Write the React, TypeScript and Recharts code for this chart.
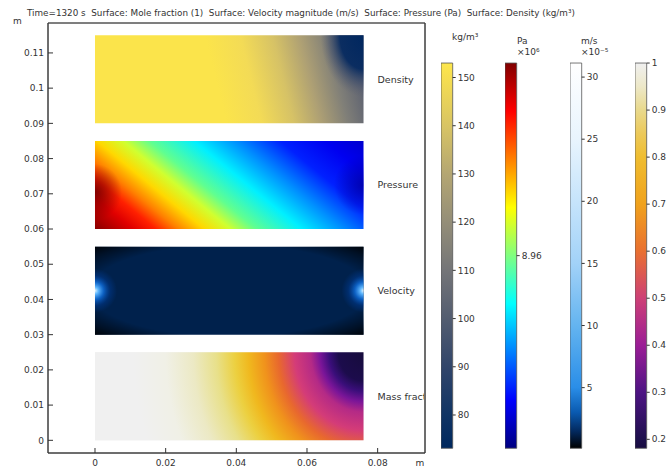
import React from "react";
import { ComposedChart, XAxis, YAxis, ReferenceArea } from "recharts";

// axes of the geometry plot (m)
const X_DOMAIN: [number, number] = [-0.0133, 0.0934];
const Y_DOMAIN: [number, number] = [-0.0036, 0.1185];
const X_TICKS = [0, 0.02, 0.04, 0.06, 0.08];
const Y_TICKS = [0, 0.01, 0.02, 0.03, 0.04, 0.05, 0.06, 0.07, 0.08, 0.09, 0.1, 0.11];

// the four copies of the domain, each showing one field
const BLOCK_NAMES = ["Density", "Pressure", "Velocity", "Mass fraction"];
const BLOCK_X: [number, number] = [0, 0.076];
const BLOCK_BOTTOM = [0.09, 0.06, 0.03, 0];
const BLOCK_TOP = [0.115, 0.085, 0.055, 0.025];
const BLOCK_FILLS = [
  ["url(#densBase)", "url(#densCorner)"],
  ["url(#presBase)", "url(#presLeft)", "url(#presRight)"],
  ["#00214c", "url(#velVignette)", "url(#velLeft)", "url(#velRight)"],
  ["#f0f0f0", "url(#massRadial)"],
];

// colour legends
const DENSITY_RANGE: [number, number] = [73.1, 153];
const DENSITY_TICKS = [80, 90, 100, 110, 120, 130, 140, 150];
const PRESSURE_RANGE: [number, number] = [8.93, 8.99];
const PRESSURE_TICKS = [8.96];
const VELOCITY_RANGE: [number, number] = [0.12, 31.13];
const VELOCITY_TICKS = [5, 10, 15, 20, 25, 30];
const MOLE_RANGE: [number, number] = [0.181, 1];
const MOLE_TICKS = [0.2, 0.3, 0.4, 0.5, 0.6, 0.7, 0.8, 0.9, 1];

const TEXT = "#333";
const FONT = "'DejaVu Sans', sans-serif";

type Stop = [number, string, number?];

function Linear({ id, stops, x1 = 0, y1 = 0, x2 = 0, y2 = 1 }: { id: string; stops: Stop[]; x1?: number; y1?: number; x2?: number; y2?: number }) {
  return (
    <linearGradient id={id} x1={x1} y1={y1} x2={x2} y2={y2}>
      {stops.map(([o, c, a], i) => (
        <stop key={i} offset={o} stopColor={c} stopOpacity={a ?? 1} />
      ))}
    </linearGradient>
  );
}

function Radial({ id, stops, transform }: { id: string; stops: Stop[]; transform?: string }) {
  return (
    <radialGradient id={id} cx={0} cy={0} r={1} fx={0} fy={0} gradientTransform={transform}>
      {stops.map(([o, c, a], i) => (
        <stop key={i} offset={o} stopColor={c} stopOpacity={a ?? 1} />
      ))}
    </radialGradient>
  );
}

function Defs() {
  return (
    <svg width={0} height={0} style={{ position: "absolute" }}>
      <defs>
        <clipPath id="frameClip" clipPathUnits="userSpaceOnUse">
          <rect x={0} y={0} width={424} height={471} />
        </clipPath>
        {/* density field */}
        <Linear id="densBase" x1={0} y1={0.54} x2={1} y2={0.46} stops={[
          [0, "#fbe44b"], [0.45, "#fbe44b"], [0.58, "#f3db56"], [0.7, "#d6c266"],
          [0.8, "#aea074"], [0.9, "#807f78"], [1, "#5a5f70"],
        ]} />
        <Radial id="densCorner" transform="translate(1 0) scale(0.16 0.7)" stops={[
          [0, "#00275f"], [0.55, "#062a60", 0.95], [0.8, "#3a4a6a", 0.5], [1, "#5a5f70", 0],
        ]} />
        {/* pressure field */}
        <Linear id="presBase" x1={-0.1} y1={0.74} x2={1.1} y2={0.26} stops={[
          [0, "#8b0000"], [0.1, "#e00000"], [0.16, "#ff2000"], [0.22, "#ff8000"],
          [0.29, "#ffd800"], [0.36, "#d0ff30"], [0.43, "#60ff90"], [0.55, "#00f0ff"],
          [0.66, "#0090ff"], [0.78, "#0020ff"], [0.9, "#0000f0"], [1, "#0000d0"],
        ]} />
        <Radial id="presLeft" transform="translate(0 0.58) scale(0.1 0.32)" stops={[
          [0, "#700000", 0.85], [1, "#700000", 0],
        ]} />
        <Radial id="presRight" transform="translate(1 0.5) scale(0.11 0.34)" stops={[
          [0, "#0000a0", 0.8], [1, "#0000a0", 0],
        ]} />
        {/* velocity field */}
        <radialGradient id="velVignette" cx={0.5} cy={0.5} r={0.72}>
          <stop offset={0} stopColor="#000" stopOpacity={0} />
          <stop offset={0.72} stopColor="#000" stopOpacity={0} />
          <stop offset={0.88} stopColor="#000" stopOpacity={0.5} />
          <stop offset={1} stopColor="#000" stopOpacity={0.95} />
        </radialGradient>
        <Radial id="velLeft" transform="translate(0 0.5) scale(0.082 0.25)" stops={[
          [0, "#e0f4ff"], [0.15, "#60b8ff"], [0.4, "#1070e0", 0.8], [0.7, "#0040a0", 0.4], [1, "#0040a0", 0],
        ]} />
        <Radial id="velRight" transform="translate(1 0.5) scale(0.082 0.25)" stops={[
          [0, "#e0f4ff"], [0.15, "#60b8ff"], [0.4, "#1070e0", 0.8], [0.7, "#0040a0", 0.4], [1, "#0040a0", 0],
        ]} />
        {/* mass fraction field */}
        <Radial id="massRadial" transform="translate(1 0) scale(0.857 2.95)" stops={[
          [0, "#160c3c"], [0.11, "#1c0c4c"], [0.15, "#3a0e7a"], [0.19, "#7a1598"],
          [0.23, "#b42a86"], [0.3, "#d43c78"], [0.37, "#e8682e"], [0.43, "#f0921c"],
          [0.5, "#f0b81e"], [0.56, "#ecd040"], [0.64, "#e8e08a"], [0.74, "#ece9c4"],
          [0.86, "#f0f0e6"], [1, "#f0f0f0"],
        ]} />
        {/* legends */}
        <Linear id="cbDensity" stops={[
          [0, "#fde74c"], [0.0375, "#f6de50"], [0.163, "#d8c464"], [0.288, "#b4a672"],
          [0.413, "#948e78"], [0.538, "#747578"], [0.663, "#535d70"], [0.789, "#31456a"],
          [0.914, "#103464"], [1, "#00285e"],
        ]} />
        <Linear id="cbPressure" stops={[
          [0, "#800000"], [0.125, "#ff0000"], [0.25, "#ff8000"], [0.375, "#ffff00"],
          [0.5, "#80ff80"], [0.625, "#00ffff"], [0.75, "#0080ff"], [0.875, "#0000ff"], [1, "#000080"],
        ]} />
        <Linear id="cbVelocity" stops={[
          [0, "#ffffff"], [0.198, "#e8f4fd"], [0.359, "#c6e4fb"], [0.52, "#a2d2f8"],
          [0.681, "#64b4f0"], [0.842, "#2a8ee8"], [0.907, "#0a5ab0"], [0.955, "#032a60"], [1, "#000000"],
        ]} />
        <Linear id="cbMole" stops={[
          [0, "#f0f0f0"], [0.061, "#ede8c8"], [0.122, "#e9d98c"], [0.183, "#ecc95a"],
          [0.244, "#efbd30"], [0.366, "#f0a21c"], [0.488, "#e97030"], [0.611, "#cd4076"],
          [0.733, "#9b1d96"], [0.855, "#4d1383"], [0.977, "#1d0f4c"], [1, "#180c40"],
        ]} />
      </defs>
    </svg>
  );
}

function BlockLabel({ viewBox, text }: { viewBox?: any; text: string }) {
  if (!viewBox) return null;
  return (
    <text
      x={viewBox.x + viewBox.width + 14}
      y={viewBox.y + viewBox.height / 2}
      dominantBaseline="central"
      fontSize={9.5}
      fill={TEXT}
      clipPath="url(#frameClip)"
    >
      {text}
    </text>
  );
}

const fmt = (v: number) => String(v);

function ColorBar({ left, range, ticks, gradient }: { left: number; range: [number, number]; ticks: number[]; gradient: string }) {
  return (
    <div style={{ position: "absolute", left, top: 56.7 }}>
      <ComposedChart width={51.7} height={397.3} margin={{ top: 6, right: 0, bottom: 6, left: 0 }}>
        <XAxis
          type="number"
          dataKey="x"
          domain={[0, 1]}
          allowDataOverflow
          height={0}
          axisLine={false}
          tickLine={false}
          tick={false}
        />
        <YAxis
          orientation="right"
          type="number"
          dataKey="v"
          domain={range}
          ticks={ticks}
          interval={0}
          allowDataOverflow
          width={40}
          axisLine={false}
          tickSize={3}
          tickMargin={2}
          tickLine={{ stroke: "#333" }}
          tick={{ fontSize: 9, fill: TEXT }}
          tickFormatter={fmt}
        />
        <ReferenceArea
          y1={range[0]}
          y2={range[1]}
          fill={`url(#${gradient})`}
          fillOpacity={1}
          stroke="#555"
          strokeWidth={0.8}
          ifOverflow="visible"
        />
      </ComposedChart>
    </div>
  );
}

export default function App() {
  return (
    <div
      style={{
        position: "absolute",
        left: 0,
        top: 0,
        width: 669,
        height: 471,
        background: "#fff",
        fontFamily: FONT,
        overflow: "hidden",
      }}
    >
      <Defs />
      <div style={{ position: "absolute", left: 0, top: 0 }}>
        <ComposedChart width={669} height={471} margin={{ top: 18, right: 243, bottom: 0, left: 0 }}>
          <XAxis
            type="number"
            dataKey="x"
            domain={X_DOMAIN}
            ticks={X_TICKS}
            interval={0}
            allowDataOverflow
            height={18}
            tickSize={-5}
            tickMargin={12}
            stroke="#333"
            tick={{ fontSize: 9, fill: TEXT }}
            tickFormatter={fmt}
          />
          <XAxis
            xAxisId="top"
            orientation="top"
            type="number"
            dataKey="x"
            domain={X_DOMAIN}
            ticks={X_TICKS}
            interval={0}
            allowDataOverflow
            height={5}
            tickSize={-5}
            tickMargin={0}
            tick={false}
            stroke="#555"
          />
          <YAxis
            type="number"
            dataKey="y"
            domain={Y_DOMAIN}
            ticks={Y_TICKS}
            interval={0}
            allowDataOverflow
            width={48}
            tickSize={-5}
            tickMargin={9}
            stroke="#333"
            tick={{ fontSize: 9, fill: TEXT }}
            tickFormatter={fmt}
          />
          <YAxis
            yAxisId="right"
            orientation="right"
            type="number"
            dataKey="y"
            domain={Y_DOMAIN}
            ticks={Y_TICKS}
            interval={0}
            allowDataOverflow
            width={1}
            tickSize={-5}
            tick={false}
            stroke="#333"
          />
          {/* plot frame */}
          <ReferenceArea
            x1={X_DOMAIN[0]}
            x2={X_DOMAIN[1]}
            y1={Y_DOMAIN[0]}
            y2={Y_DOMAIN[1]}
            fill="none"
            stroke="#555"
            strokeWidth={1}
            ifOverflow="visible"
          />
          {BLOCK_NAMES.map((name, b) =>
            BLOCK_FILLS[b].map((fill, k) => (
              <ReferenceArea
                key={`${name}-${k}`}
                x1={BLOCK_X[0]}
                x2={BLOCK_X[1]}
                y1={BLOCK_BOTTOM[b]}
                y2={BLOCK_TOP[b]}
                fill={fill}
                fillOpacity={1}
                stroke="none"
                label={k === 0 ? (p: any) => <BlockLabel viewBox={p.viewBox} text={name} /> : undefined}
              />
            ))
          )}
        </ComposedChart>
      </div>

      <ColorBar left={440.7} range={DENSITY_RANGE} ticks={DENSITY_TICKS} gradient="cbDensity" />
      <ColorBar left={505.3} range={PRESSURE_RANGE} ticks={PRESSURE_TICKS} gradient="cbPressure" />
      <ColorBar left={570} range={VELOCITY_RANGE} ticks={VELOCITY_TICKS} gradient="cbVelocity" />
      <ColorBar left={635} range={MOLE_RANGE} ticks={MOLE_TICKS} gradient="cbMole" />

      <svg width={669} height={471} style={{ position: "absolute", left: 0, top: 0, pointerEvents: "none" }}>
        <g fill={TEXT} fontSize={9}>
          <text x={27} y={13} dominantBaseline="central" fontSize={8.8}>
            Time=1320 s{"\u00a0\u00a0"}Surface: Mole fraction (1){"\u00a0\u00a0"}Surface: Velocity magnitude (m/s){"\u00a0\u00a0"}Surface: Pressure (Pa){"\u00a0\u00a0"}Surface: Density (kg/m³)
          </text>
          <text x={13} y={21} dominantBaseline="central">m</text>
          <text x={420} y={463} dominantBaseline="central" textAnchor="middle">m</text>
          <text x={452} y={37} dominantBaseline="central">kg/m³</text>
          <text x={517} y={41} dominantBaseline="central">Pa</text>
          <text x={517} y={51.5} dominantBaseline="central">×10⁶</text>
          <text x={581} y={41} dominantBaseline="central">m/s</text>
          <text x={581} y={51.5} dominantBaseline="central">×10⁻⁵</text>
        </g>
      </svg>
    </div>
  );
}
